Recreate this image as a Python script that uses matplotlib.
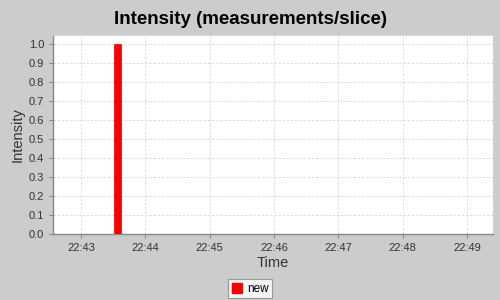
import datetime as dt
import matplotlib
matplotlib.use("Agg")
import matplotlib.pyplot as plt
import matplotlib.dates as mdates
from matplotlib.patches import Patch

## data
series_name = "new"
times = ["22:43:34"]
values = [1.0]
x_start = "22:42:34"
x_end = "22:49:24"
y_ticks = [0.0, 0.1, 0.2, 0.3, 0.4, 0.5, 0.6, 0.7, 0.8, 0.9, 1.0]

day = dt.date(2000, 1, 1)
def to_dt(s):
	return dt.datetime.combine(day, dt.datetime.strptime(s, "%H:%M:%S").time())

plt.rcParams['font.family'] = ['Liberation Sans', 'DejaVu Sans']
bg = "#CCCCCC"

fig = plt.figure(figsize=(5, 3), dpi=100, facecolor=bg)
ax = fig.add_axes([0.106, 0.22, 0.88, 0.663])
ax.set_facecolor("white")

xs = [to_dt(t) for t in times]
width = 6.5 / 86400.0
ax.bar(xs, values, width=width, color="#FF0000", edgecolor="#E00000", linewidth=0.5, zorder=3)

ax.set_xlim(to_dt(x_start), to_dt(x_end))
ax.set_ylim(0, 1.047)
ax.set_yticks(y_ticks)
ax.set_yticklabels(["{:.1f}".format(v) for v in y_ticks])
ax.xaxis.set_major_locator(mdates.MinuteLocator())
ax.xaxis.set_major_formatter(mdates.DateFormatter("%H:%M"))

ax.grid(True, color="#D8D8D8", linestyle=(0, (3, 2)), linewidth=0.6, zorder=0)
for s in ["top", "right"]:
	ax.spines[s].set_color("#D0D0D0")
	ax.spines[s].set_linewidth(0.6)
for s in ["left", "bottom"]:
	ax.spines[s].set_color("#888888")
	ax.spines[s].set_linewidth(1.0)
ax.tick_params(axis="both", colors="#888888", labelcolor="#333333", labelsize=8, length=3, width=0.8)

ax.set_xlabel("Time", fontsize=10.5, color="#333333", labelpad=2)
ax.set_ylabel("Intensity", fontsize=10.5, color="#333333", labelpad=3)
fig.suptitle("Intensity (measurements/slice)", fontsize=13.5, fontweight="bold", y=0.965)

handle = Patch(facecolor="#FF0000", edgecolor="#FF0000")
leg = fig.legend([handle], [series_name], loc="center", bbox_to_anchor=(0.5, 0.037), fontsize=8.5,
	frameon=True, fancybox=False, handlelength=0.9, handleheight=0.9, handletextpad=0.4,
	borderpad=0.3, borderaxespad=0)
leg.get_frame().set_edgecolor("#888888")
leg.get_frame().set_linewidth(0.8)

fig.savefig("out.png", dpi=100, facecolor=bg)
